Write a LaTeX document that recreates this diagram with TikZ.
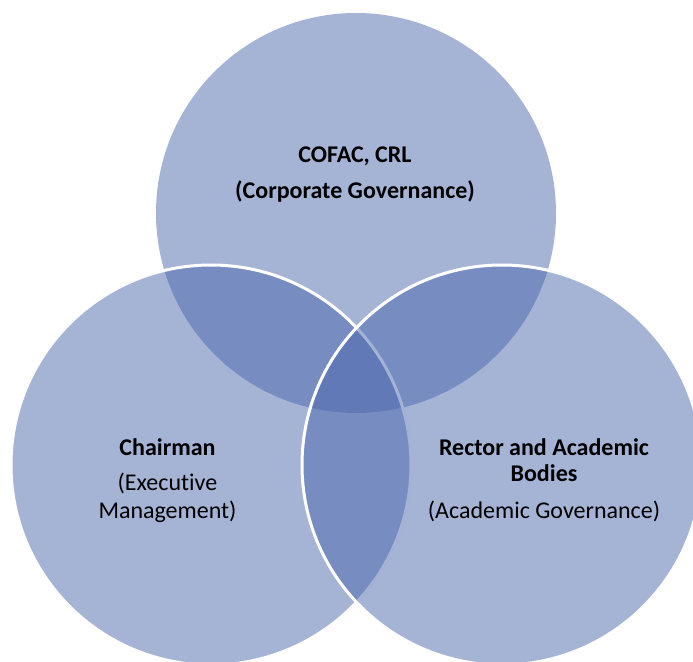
\documentclass[tikz,border=0pt]{standalone}
\usepackage{fontspec}
\setmainfont{Carlito}[Ligatures=NoCommon]
\begin{document}
\begin{tikzpicture}[x=1pt,y=-1pt]
\definecolor{vennfill}{RGB}{75,103,172}
\tikzset{
  venn/.style={circle, minimum size=400pt, inner sep=0pt, fill=vennfill, fill opacity=0.5, draw=white, draw opacity=1, line width=3pt},
  lbl/.style={font=\fontsize{24}{28}\selectfont, text=black, inner sep=0pt, anchor=base},
  blbl/.style={lbl, font=\fontsize{24}{28}\selectfont\bfseries}
}
\useasboundingbox (0,0) rectangle (693,661);
\node[venn, draw=none] (top) at (356,213) {};
\node[venn] (left) at (211,465) {};
\node[venn] (right) at (502,465) {};
\node[blbl] (t1) at (355,162) {COFAC, CRL};
\node[blbl] (t2) at (355,198) {(Corporate Governance)};
\node[blbl] (l1) at (167.5,455) {Chairman};
\node[lbl] (l2) at (167.5,490) {(Executive};
\node[lbl] (l3) at (167.5,518) {Management)};
\node[blbl] (r1) at (544,455) {Rector and Academic};
\node[blbl] (r2) at (544,481) {Bodies};
\node[lbl] (r3) at (544,518) {(Academic Governance)};
\end{tikzpicture}
\end{document}
